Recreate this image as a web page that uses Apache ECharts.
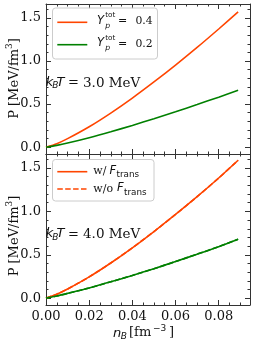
<!DOCTYPE html>
<html>
<head>
<meta charset="utf-8">
<script src="https://cdn.jsdelivr.net/npm/echarts@6/dist/echarts.min.js"></script>
<style>
html,body{margin:0;padding:0;background:#fff;}
#c{width:258px;height:344px;}
</style>
</head>
<body>
<div id="c"></div>
<script>
// ---- data ----
const nB = [0, 0.005, 0.01, 0.02, 0.03, 0.04, 0.05, 0.06, 0.07, 0.08, 0.089];
// kT = 3.0 MeV
const pT3Yp04 = [0, 0.041, 0.099, 0.237, 0.396, 0.570, 0.757, 0.953, 1.158, 1.372, 1.570];
const pT3Yp02 = [0, 0.021, 0.048, 0.110, 0.179, 0.253, 0.330, 0.411, 0.495, 0.581, 0.660];
// kT = 4.0 MeV, with F_trans
const pT4Yp04 = [0, 0.045, 0.105, 0.245, 0.405, 0.580, 0.768, 0.965, 1.170, 1.385, 1.590];
const pT4Yp02 = [0, 0.025, 0.055, 0.118, 0.188, 0.262, 0.340, 0.422, 0.507, 0.594, 0.680];
// kT = 4.0 MeV, without F_trans
const pT4Yp04NoTrans = [0, 0.045, 0.105, 0.245, 0.405, 0.580, 0.768, 0.965, 1.170, 1.385, 1.590];
const pT4Yp02NoTrans = [0, 0.025, 0.055, 0.118, 0.188, 0.262, 0.340, 0.422, 0.507, 0.594, 0.680];

const xMajor = [0, 0.02, 0.04, 0.06, 0.08];
const xMinor = [0.005, 0.01, 0.015, 0.025, 0.03, 0.035, 0.045, 0.05, 0.055, 0.065, 0.07, 0.075, 0.085, 0.09];
const yMajor = [0, 0.5, 1.0, 1.5];
const yMinor = [0.1, 0.2, 0.3, 0.4, 0.6, 0.7, 0.8, 0.9, 1.1, 1.2, 1.3, 1.4, 1.6];

const X_MIN = 0, X_MAX = 0.0945, Y_MIN = -0.079, Y_MAX = 1.662;

// ---- styles ----
const RED = '#ff4500', GREEN = '#008000', AX = '#333', TXT = '#111';
const SERIF = 'DejaVu Serif', SANS = 'DejaVu Sans';

const pairs = (xs, ys) => xs.map((x, i) => [x, ys[i]]);

const grids = [
  {left: 46, top: 4, width: 204, height: 150},
  {left: 46, top: 154, width: 204, height: 151}
];

const xAxes = [], yAxes = [];
grids.forEach((g, gi) => {
  const base = {type: 'value', gridIndex: gi, min: X_MIN, max: X_MAX, splitLine: {show: false}};
  xAxes.push(Object.assign({}, base, {position: 'bottom',
    axisLine: {show: true, onZero: false, lineStyle: {color: AX, width: 1}},
    axisTick: {show: true, inside: true, length: 5, customValues: xMajor, lineStyle: {color: AX, width: 1}},
    axisLabel: {show: gi === 1, customValues: xMajor, formatter: v => v.toFixed(2), fontFamily: SERIF, fontSize: 13, color: TXT, margin: 5}}));
  xAxes.push(Object.assign({}, base, {position: 'top',
    axisLine: {show: true, onZero: false, lineStyle: {color: AX, width: 1}},
    axisTick: {show: true, inside: true, length: 5, customValues: xMajor, lineStyle: {color: AX, width: 1}},
    axisLabel: {show: false}}));
  xAxes.push(Object.assign({}, base, {position: 'bottom',
    axisLine: {show: false, onZero: false},
    axisTick: {show: true, inside: true, length: 2.5, customValues: xMinor, lineStyle: {color: AX, width: 1}},
    axisLabel: {show: false}}));
  xAxes.push(Object.assign({}, base, {position: 'top',
    axisLine: {show: false, onZero: false},
    axisTick: {show: true, inside: true, length: 2.5, customValues: xMinor, lineStyle: {color: AX, width: 1}},
    axisLabel: {show: false}}));

  const ybase = {type: 'value', gridIndex: gi, min: Y_MIN, max: Y_MAX, splitLine: {show: false}};
  yAxes.push(Object.assign({}, ybase, {position: 'left',
    axisLine: {show: true, onZero: false, lineStyle: {color: AX, width: 1}},
    axisTick: {show: true, inside: true, length: 5, customValues: yMajor, lineStyle: {color: AX, width: 1}},
    axisLabel: {show: true, customValues: yMajor, formatter: v => v.toFixed(1), fontFamily: SERIF, fontSize: 13, color: TXT, margin: 5}}));
  yAxes.push(Object.assign({}, ybase, {position: 'right',
    axisLine: {show: true, onZero: false, lineStyle: {color: AX, width: 1}},
    axisTick: {show: true, inside: true, length: 5, customValues: yMajor, lineStyle: {color: AX, width: 1}},
    axisLabel: {show: false}}));
  yAxes.push(Object.assign({}, ybase, {position: 'left',
    axisLine: {show: false, onZero: false},
    axisTick: {show: true, inside: true, length: 2.5, customValues: yMinor, lineStyle: {color: AX, width: 1}},
    axisLabel: {show: false}}));
  yAxes.push(Object.assign({}, ybase, {position: 'right',
    axisLine: {show: false, onZero: false},
    axisTick: {show: true, inside: true, length: 2.5, customValues: yMinor, lineStyle: {color: AX, width: 1}},
    axisLabel: {show: false}}));
});

function line(name, gi, ys, color, dashed) {
  return {
    name: name, type: 'line', xAxisIndex: gi * 4, yAxisIndex: gi * 4,
    data: pairs(nB, ys), showSymbol: false, symbol: 'none', smooth: 0.25,
    lineStyle: {color: color, width: 1.6, type: dashed ? [5.5, 2.4] : 'solid'},
    itemStyle: {color: color}, animation: false, silent: true
  };
}

const series = [
  line('Y04', 0, pT3Yp04, RED, false),
  line('Y02', 0, pT3Yp02, GREEN, false),
  line('wF', 1, pT4Yp04, RED, false),
  line('g4', 1, pT4Yp02, GREEN, false),
  line('woF', 1, pT4Yp04NoTrans, RED, true),
  line('g4d', 1, pT4Yp02NoTrans, GREEN, true)
];

// text helper (y = vertical middle)
function T(x, y, s, size, fam, italic, align) {
  return {type: 'text', x: x, y: y, z: 100, silent: true,
    style: {text: s, fontSize: size, fontFamily: fam, fontStyle: italic ? 'italic' : 'normal',
      fill: TXT, textAlign: align || 'left', verticalAlign: 'middle'}};
}
function L(x1, y1, x2, y2, color, dashed) {
  return {type: 'line', z: 100, silent: true, shape: {x1: x1, y1: y1, x2: x2, y2: y2},
    style: {stroke: color, lineWidth: 1.6, lineDash: dashed ? [5.5, 2.4] : null}};
}

const graphics = [
  // legend boxes
  {type: 'rect', z: 5, silent: true, shape: {x: 52.5, y: 8, width: 105, height: 51, r: 3},
   style: {fill: 'rgba(255,255,255,0.85)', stroke: '#cccccc', lineWidth: 1}},
  {type: 'rect', z: 5, silent: true, shape: {x: 52.5, y: 159.5, width: 101.5, height: 41.5, r: 3},
   style: {fill: 'rgba(255,255,255,0.85)', stroke: '#cccccc', lineWidth: 1}},
  L(57.3, 22.3, 87.3, 22.3, RED, false),
  L(57.3, 44.7, 87.3, 44.7, GREEN, false),
  L(57.3, 171.7, 87.3, 171.7, RED, false),
  L(57.3, 189, 87.3, 189, RED, true)
];
// top legend labels
[[21, '0.4'], [43.4, '0.2']].forEach(([yc, v]) => {
  graphics.push(T(97, yc, 'Y', 11.5, SANS, true));
  graphics.push(T(105.2, yc - 5.5, 'tot', 7.2, SANS, false));
  graphics.push(T(105.2, yc + 5, 'p', 7.7, SANS, true));
  graphics.push(T(118, yc + 0.5, '=', 11, SERIF, false));
  graphics.push(T(135.5, yc + 0.5, v, 10.8, SERIF, false));
});
// bottom legend labels
[[171.5, 'w/'], [188.8, 'w/o']].forEach(([yc, s]) => {
  graphics.push(T(93.3, yc, s, 11, SERIF, false));
  const fx = s === 'w/' ? 109.5 : 117;
  graphics.push(T(fx, yc - 0.5, 'F', 11.5, SANS, true));
  graphics.push(T(fx + 7, yc + 3.5, 'trans', 8.8, SANS, false));
});
// annotations
[[82.5, '3.0'], [234, '4.0']].forEach(([yc, v]) => {
  graphics.push(T(45.7, yc, 'k', 13, SANS, true));
  graphics.push(T(52.3, yc + 3.5, 'B', 9, SANS, true));
  graphics.push(T(56.5, yc, 'T', 13, SANS, true));
  graphics.push(T(68, yc + 0.5, '=', 13, SANS, false));
  graphics.push(T(83, yc + 0.5, v + ' MeV', 13.5, SERIF, false));
});
// x axis label
graphics.push(T(113, 333.5, 'n', 13, SANS, true));
graphics.push(T(120.7, 337, 'B', 9, SANS, true));
graphics.push(T(129, 333, '[fm', 13, SERIF, false));
graphics.push(T(153, 328.5, '\u22123', 9, SANS, false));
graphics.push(T(169, 333, ']', 13, SERIF, false));
// y axis labels (rotated)
[78.5, 236].forEach(yc => {
  graphics.push({type: 'text', x: 12.8, y: yc, rotation: Math.PI / 2, z: 100, silent: true,
    style: {text: '{a|P [MeV/fm}{s|3}{a|]}', textAlign: 'center', verticalAlign: 'middle', fill: TXT,
      rich: {a: {fontSize: 13, fontFamily: SERIF, fill: TXT, lineHeight: 16, verticalAlign: 'bottom'},
             s: {fontSize: 9, fontFamily: SERIF, fill: TXT, lineHeight: 16, verticalAlign: 'top'}}}});
});

const chart = echarts.init(document.getElementById('c'), null, {renderer: 'canvas'});
chart.setOption({
  animation: false,
  backgroundColor: '#fff',
  grid: grids,
  xAxis: xAxes,
  yAxis: yAxes,
  series: series,
  graphic: graphics
});
</script>
</body>
</html>
